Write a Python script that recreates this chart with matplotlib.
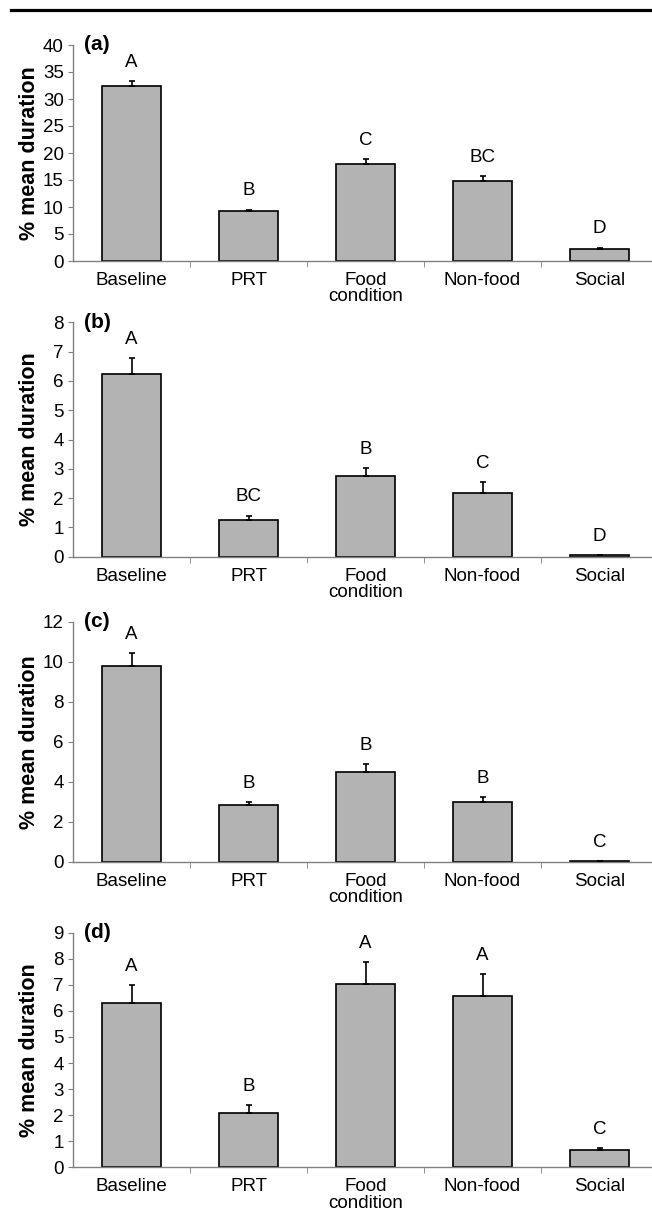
import matplotlib
matplotlib.use('Agg')
import matplotlib.pyplot as plt
from matplotlib.lines import Line2D
from matplotlib.ticker import FixedLocator

plt.rcParams['font.family'] = ['Liberation Sans', 'DejaVu Sans']

categories = ['Baseline', 'PRT', 'Food\ncondition', 'Non-food', 'Social']

# panel (a)
vals_a = [32.4, 9.26, 17.9, 14.8, 2.28]
errs_a = [0.9, 0.25, 0.9, 0.9, 0.18]
letters_a = ['A', 'B', 'C', 'BC', 'D']
ticks_a = [0, 5, 10, 15, 20, 25, 30, 35, 40]

# panel (b)
vals_b = [6.22, 1.26, 2.74, 2.16, 0.05]
errs_b = [0.57, 0.14, 0.29, 0.38, 0.0]
letters_b = ['A', 'BC', 'B', 'C', 'D']
ticks_b = [0, 1, 2, 3, 4, 5, 6, 7, 8]

# panel (c)
vals_c = [9.8, 2.82, 4.47, 2.97, 0.03]
errs_c = [0.62, 0.16, 0.40, 0.25, 0.0]
letters_c = ['A', 'B', 'B', 'B', 'C']
ticks_c = [0, 2, 4, 6, 8, 10, 12]

# panel (d)
vals_d = [6.31, 2.07, 7.02, 6.56, 0.66]
errs_d = [0.67, 0.31, 0.85, 0.84, 0.09]
letters_d = ['A', 'B', 'A', 'A', 'C']
ticks_d = [0, 1, 2, 3, 4, 5, 6, 7, 8, 9]

panels = [
    ('(a)', vals_a, errs_a, letters_a, ticks_a, 261, 216),
    ('(b)', vals_b, errs_b, letters_b, ticks_b, 556.7, 234.4),
    ('(c)', vals_c, errs_c, letters_c, ticks_c, 861.7, 240),
    ('(d)', vals_d, errs_d, letters_d, ticks_d, 1167.3, 234.6),
]

W, H = 652, 1210
fig = plt.figure(figsize=(W / 100, H / 100), dpi=100)

# rule at the top of the page
fig.add_artist(Line2D([11 / W, 1], [1 - 10 / H, 1 - 10 / H], color='black', lw=2.3))

x = list(range(len(categories)))
for tag, vals, errs, letters, ticks, bot_px, h_px in panels:
    ax = fig.add_axes([73 / W, 1 - bot_px / H, 585 / W, h_px / H])
    ax.bar(x, vals, width=0.5, color='#b3b3b3', edgecolor='black', linewidth=1.2, zorder=2)
    ax.errorbar(x, vals, yerr=[[0] * len(vals), errs], fmt='none', ecolor='black',
                elinewidth=1.2, capsize=2.5, capthick=1.2, zorder=3)
    for xi, v, e, lab in zip(x, vals, errs, letters):
        ax.annotate(lab, (xi, v + e), xytext=(0, 13.5), textcoords='offset points',
                    ha='center', va='center', fontsize=13.5)

    ax.set_xlim(-0.5, 4.5)
    ax.set_ylim(ticks[0], ticks[-1])
    ax.set_yticks(ticks)
    ax.set_xticks(x)
    ax.set_xticklabels(categories, fontsize=13.5, linespacing=0.95)
    ax.xaxis.set_minor_locator(FixedLocator([0.5, 1.5, 2.5, 3.5]))
    ax.tick_params(axis='x', which='major', length=0, pad=8)
    ax.tick_params(axis='x', which='minor', length=4, color='#808080', direction='out')
    ax.tick_params(axis='y', length=3.5, color='#808080', labelsize=13.5, pad=3)

    for s in ['top', 'right']:
        ax.spines[s].set_visible(False)
    for s in ['left', 'bottom']:
        ax.spines[s].set_color('#808080')
        ax.spines[s].set_linewidth(1.0)

    ax.set_ylabel('% mean duration', fontsize=15.5, fontweight='bold', va='center')
    ax.yaxis.set_label_coords(-0.075, 0.5)
    ax.text(0.018, 1.0, tag, transform=ax.transAxes, fontsize=15, fontweight='bold',
            ha='left', va='center')

fig.savefig('out.png', dpi=100)
